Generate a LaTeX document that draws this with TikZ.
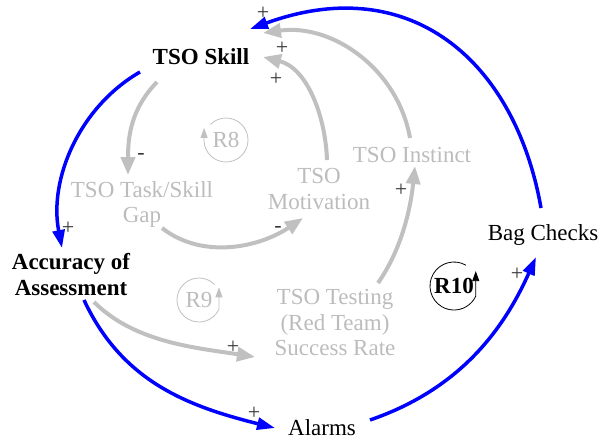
\documentclass[tikz,border=0pt]{standalone}
\usepackage{fontspec}
\setmainfont{Liberation Serif}
\newfontfamily\diagramfont{Liberation Serif}
\usetikzlibrary{arrows.meta}
\definecolor{linkblue}{RGB}{0,0,255}
\definecolor{fadegray}{RGB}{192,192,192}
\definecolor{fadetext}{RGB}{188,188,188}
\definecolor{signgray}{RGB}{55,55,55}
\begin{document}
\begin{tikzpicture}[x=1pt,y=1pt,
  var/.style={font=\diagramfont\fontsize{23}{25.5}\selectfont, inner sep=0pt, align=center},
  mainvar/.style={var, font=\diagramfont\fontsize{23}{25.5}\selectfont\bfseries},
  fadevar/.style={var, text=fadetext},
  bluelink/.style={draw=linkblue, line width=3.5pt, -{Triangle[length=18pt,width=12pt]}},
  graylink/.style={draw=fadegray, line width=4pt, -{Triangle[length=18pt,width=14pt]}},
  polarity/.style={font=\diagramfont\fontsize{22}{22}\selectfont, text=signgray, inner sep=0pt},
  loopring/.style={circle, minimum size=44pt, inner sep=0pt, outer sep=0pt},
  loopline/.style={line width=0.8pt, -{Triangle[length=10pt,width=7pt]}}
]
\useasboundingbox (0,0) rectangle (602,440);

% variables
\node[mainvar, anchor=base] (skill) at (201,375) {TSO Skill};
\node[var, anchor=base] (bag) at (543,200) {Bag Checks};
\node[var, anchor=base] (alarms) at (322,5) {Alarms};
\node[fadevar, anchor=base] (instinct) at (412,278) {TSO Instinct};
\node[mainvar] (acc) at (71,165.5) {Accuracy of\\Assessment};
\node[fadevar] (gap) at (142,235.5) {TSO Task/Skill\\Gap};
\node[fadevar] (motiv) at (319,251) {TSO\\Motivation};
\node[fadevar] (testing) at (335,117.5) {TSO Testing\\(Red Team)\\Success Rate};

% faded links
\draw[graylink] ([shift={(-44,-17)}]skill.base) .. controls +(226:38) and +(90:38) .. ([shift={(-14,29.5)}]gap.center);
\draw[graylink] ([shift={(20,-23.5)}]gap.center) .. controls +(-38:52) and +(214:52) .. ([shift={(-16,-29)}]motiv.center);
\draw[graylink] ([shift={(8,29)}]motiv.center) .. controls +(92:45) and +(-14:45) .. ([shift={(62,8)}]skill.base);
\draw[graylink] ([shift={(-2,24)}]instinct.base) .. controls +(100:70) and +(8:70) .. ([shift={(62,32)}]skill.base);
\draw[graylink] ([shift={(43,39.5)}]testing.center) .. controls +(55:42) and +(264:42) .. ([shift={(3,-4)}]instinct.base);
\draw[graylink] ([shift={(23,-27.5)}]acc.center) .. controls +(-45:58) and +(171:58) .. ([shift={(-80,-34.5)}]testing.center);

% main loop links
\draw[bluelink] ([shift={(-61,-7)}]skill.base) .. controls +(210:70) and +(101:70) .. ([shift={(-9,26.5)}]acc.center);
\draw[bluelink] ([shift={(13,-25.5)}]acc.center) .. controls +(-65:90) and +(166:90) .. ([shift={(-47,7)}]alarms.base);
\draw[bluelink] ([shift={(48,15)}]alarms.base) .. controls +(19:88) and +(246:88) .. ([shift={(-7,-17)}]bag.base);
\draw[bluelink] ([shift={(-2,32)}]bag.base) .. controls +(100:150) and +(20:170) .. ([shift={(49,36)}]skill.base);

% link polarities
\node[polarity] (s1) at (263,427) {+};
\node[polarity] (s2) at (282,392) {+};
\node[polarity] (s3) at (276,361) {+};
\node[polarity] (s4) at (141,284) {-};
\node[polarity] (s5) at (278,211) {-};
\node[polarity] (s6) at (401,250) {+};
\node[polarity] (s7) at (68,212) {+};
\node[polarity] (s8) at (233,93) {+};
\node[polarity] (s9) at (254,27) {+};
\node[polarity] (s10) at (517,166) {+};

% loop markers
\node[loopring, fadevar] (r8) at (226,300) {R8};
\draw[loopline, draw=fadegray] (r8.135) arc[start angle=135, end angle=-175, radius=22pt] -- ++(0,14);
\node[loopring, fadevar] (r9) at (199,140) {R9};
\draw[loopline, draw=fadegray] (r9.45) arc[start angle=45, end angle=335, radius=22pt] -- ++(0,22);
\node[loopring, mainvar, minimum size=48pt] (r10) at (454,154) {R10};
\draw[loopline, draw=black] (r10.60) arc[start angle=60, end angle=335, radius=24pt] -- ++(0,25);
\end{tikzpicture}
\end{document}
